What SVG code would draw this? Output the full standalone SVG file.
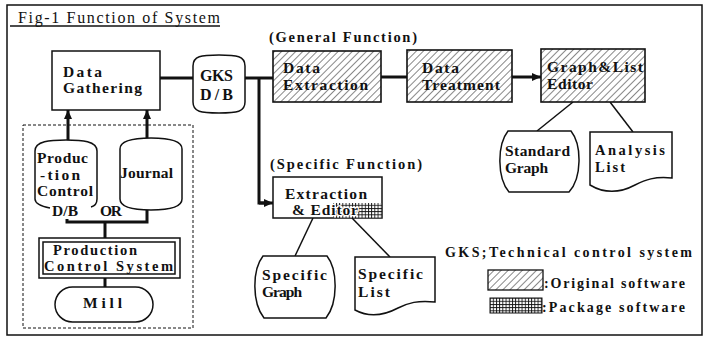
<svg xmlns="http://www.w3.org/2000/svg" width="704" height="338" viewBox="0 0 704 338">
<style>
.t{font-family:"Liberation Serif",serif;font-weight:bold;font-size:15.5px;fill:#111}
.s{font-size:14.5px}
.l{font-size:14px}
.m{font-size:14.5px}
.box{fill:#fff;stroke:#111;stroke-width:1.5}
.hb{fill:url(#hatch);stroke:#111;stroke-width:1.6}
.c{fill:none;stroke:#111;stroke-width:3}
.thin{fill:none;stroke:#111;stroke-width:1.5}
</style>
<defs>
<pattern id="hatch" patternUnits="userSpaceOnUse" width="5" height="5" patternTransform="rotate(45)">
<rect width="5" height="5" fill="#fff"/>
<line x1="0" y1="0" x2="0" y2="5" stroke="#111" stroke-width="1"/>
</pattern>
<pattern id="grid" patternUnits="userSpaceOnUse" width="3.2" height="3.2">
<rect width="3.2" height="3.2" fill="#111"/>
<rect x="0.9" y="0.9" width="2.3" height="2.3" fill="#fff"/>
</pattern>
<marker id="arr" markerUnits="userSpaceOnUse" markerWidth="10" markerHeight="10" refX="9" refY="5" orient="auto">
<path d="M0,1 L9,5 L0,9 Z" fill="#111"/>
</marker>
</defs>
<rect width="704" height="338" fill="#fff"/>
<rect x="7" y="5" width="695" height="330" fill="none" stroke="#111" stroke-width="1.5"/>
<g id="title">
<text x="18" y="23" class="t" style="font-weight:normal;font-size:16px" textLength="202" lengthAdjust="spacing">Fig-1 Function of System</text>
<line x1="10" y1="26" x2="220" y2="26" stroke="#111" stroke-width="1.3"/>
</g>
<g id="connectors">
<line class="c" x1="160" y1="78" x2="193" y2="78"/>
<line class="c" x1="245" y1="78" x2="273" y2="78"/>
<polyline class="c" points="259,78 259,203 265,203"/>
<line class="c" x1="259" y1="203" x2="273" y2="203" marker-end="url(#arr)"/>
<line class="c" x1="381" y1="77" x2="407" y2="77"/>
<line class="c" x1="512" y1="77" x2="541" y2="77" marker-end="url(#arr)"/>
<line class="c" x1="68" y1="141" x2="68" y2="110" marker-end="url(#arr)"/>
<line class="c" x1="147" y1="139" x2="147" y2="110" marker-end="url(#arr)"/>
<polyline class="c" points="67,219 67,222 147,222 147,209"/>
<line class="c" x1="105" y1="222" x2="105" y2="238"/>
<line class="c" x1="105" y1="278" x2="105" y2="287"/>
<line class="thin" x1="573" y1="102" x2="537" y2="131"/>
<line class="thin" x1="610" y1="102" x2="633" y2="132"/>
<line class="thin" x1="313" y1="218" x2="295" y2="256"/>
<line class="thin" x1="352" y1="218" x2="390" y2="257"/>
</g>
<g id="data-gathering">
<rect class="box" x="52" y="51" width="108" height="59"/>
<text class="t" x="63" y="77" textLength="39" lengthAdjust="spacing">Data</text>
<text class="t" x="63" y="93" textLength="79" lengthAdjust="spacing">Gathering</text>
</g>
<g id="gks-db">
<path class="box" d="M193,66 C193,56 201,55 219,55 C237,55 245,56 245,66 L245,102 C245,112 237,113 219,113 C201,113 193,112 193,102 Z"/>
<text class="t" x="200" y="81" style="font-size:16px" textLength="33" lengthAdjust="spacing">GKS</text>
<text class="t" x="200" y="100" style="font-size:16px" textLength="33" lengthAdjust="spacing">D/B</text>
</g>
<g id="general-label">
<text class="t s" x="269" y="42" textLength="148" lengthAdjust="spacing">(General Function)</text>
</g>
<g id="data-extraction">
<rect class="hb" x="273" y="51" width="108" height="51"/>
<text class="t" x="283" y="73" textLength="37" lengthAdjust="spacing">Data</text>
<text class="t" x="283" y="90" textLength="85" lengthAdjust="spacing">Extraction</text>
</g>
<g id="data-treatment">
<rect class="hb" x="407" y="50" width="105" height="52"/>
<text class="t" x="422" y="73" textLength="37" lengthAdjust="spacing">Data</text>
<text class="t" x="422" y="90" textLength="78" lengthAdjust="spacing">Treatment</text>
</g>
<g id="graph-list-editor">
<rect class="hb" x="541" y="49" width="104" height="53"/>
<text class="t" x="547" y="72" textLength="96" lengthAdjust="spacing">Graph&amp;List</text>
<text class="t" x="547" y="89" textLength="46" lengthAdjust="spacing">Editor</text>
</g>
<g id="standard-graph">
<path class="box" d="M508,131 L571,131 C582,145 582,178 569,192 L509,192 C497,178 497,145 508,131 Z"/>
<text class="t" x="505" y="156" textLength="65" lengthAdjust="spacing">Standard</text>
<text class="t" x="505" y="173" textLength="43" lengthAdjust="spacing">Graph</text>
</g>
<g id="analysis-list">
<path class="box" d="M590,132 H672 V178 C655,176 645,180 635,185 C620,193 605,194 590,185 Z"/>
<text class="t m" x="595" y="155" textLength="70" lengthAdjust="spacing">Analysis</text>
<text class="t m" x="595" y="172" textLength="30" lengthAdjust="spacing">List</text>
</g>
<g id="specific-label">
<text class="t s" x="270" y="169" textLength="152" lengthAdjust="spacing">(Specific Function)</text>
</g>
<g id="extraction-editor">
<rect class="box" x="273" y="177" width="109" height="41"/>
<rect x="333" y="203" width="49" height="15" fill="url(#grid)"/>
<text class="t" x="285" y="199" textLength="82" lengthAdjust="spacing">Extraction</text>
<text class="t" x="292" y="215" textLength="66" lengthAdjust="spacing" style="paint-order:stroke;stroke:#fff;stroke-width:2.5px">&amp; Editor</text>
</g>
<g id="specific-graph">
<path class="box" d="M263,256 L327,256 C338,270 338,303 326,318 L264,318 C252,303 252,270 263,256 Z"/>
<text class="t" x="262" y="280" textLength="65" lengthAdjust="spacing">Specific</text>
<text class="t" x="262" y="297" textLength="40" lengthAdjust="spacing">Graph</text>
</g>
<g id="specific-list">
<path class="box" d="M355,257 H435 V302 C418,300 408,303 398,308 C383,316 368,317 355,310 Z"/>
<text class="t" x="358" y="279" textLength="65" lengthAdjust="spacing">Specific</text>
<text class="t" x="358" y="297" textLength="32" lengthAdjust="spacing">List</text>
</g>
<g id="mill-area">
<rect x="23" y="125" width="170" height="203" fill="none" stroke="#111" stroke-width="1" stroke-dasharray="3,2"/>
</g>
<g id="production-control-db">
<path class="box" d="M35,151 C35,141 50,140 66,140 C82,140 97,141 97,151 L97,199 C97,204 95,206 91,207"/>
<path class="thin" d="M35,151 L35,199 C35,203 40,206 50,208"/>
<text class="t" x="37" y="163" textLength="51" lengthAdjust="spacing">Produc</text>
<text class="t" x="40" y="180" textLength="40" lengthAdjust="spacing">-tion</text>
<text class="t" x="37" y="196" textLength="56" lengthAdjust="spacing">Control</text>
<text class="t" x="52" y="216" textLength="26" lengthAdjust="spacing">D/B</text>
<text class="t" x="100" y="216" textLength="22" lengthAdjust="spacing">OR</text>
</g>
<g id="journal">
<path class="box" d="M120,149 C120,140 135,138 151,138 C167,138 182,140 182,149 L182,199 C182,208 167,210 151,210 C135,210 120,208 120,199 Z"/>
<text class="t" x="120" y="178" textLength="53" lengthAdjust="spacing">Journal</text>
</g>
<g id="production-control-system">
<rect class="box" x="39" y="238" width="141" height="40"/>
<rect class="box" x="43" y="242" width="132" height="32"/>
<text class="t m" x="53" y="255" textLength="84" lengthAdjust="spacing">Production</text>
<text class="t m" x="44" y="271" textLength="129" lengthAdjust="spacing">Control System</text>
</g>
<g id="mill">
<rect class="box" x="55" y="287" width="98" height="35" rx="17.5"/>
<text class="t" x="83" y="308" textLength="39" lengthAdjust="spacing">Mill</text>
</g>
<g id="legend">
<text class="t l" x="445" y="257" textLength="247" lengthAdjust="spacing">GKS;Technical control system</text>
<rect class="hb" x="488" y="270" width="55" height="20" style="stroke-width:1.3"/>
<text class="t l" x="544" y="288" textLength="141" lengthAdjust="spacing">:Original software</text>
<rect x="490" y="298" width="52" height="15" fill="url(#grid)" stroke="#111" stroke-width="1"/>
<text class="t l" x="542" y="312" textLength="143" lengthAdjust="spacing">:Package  software</text>
</g>
</svg>
